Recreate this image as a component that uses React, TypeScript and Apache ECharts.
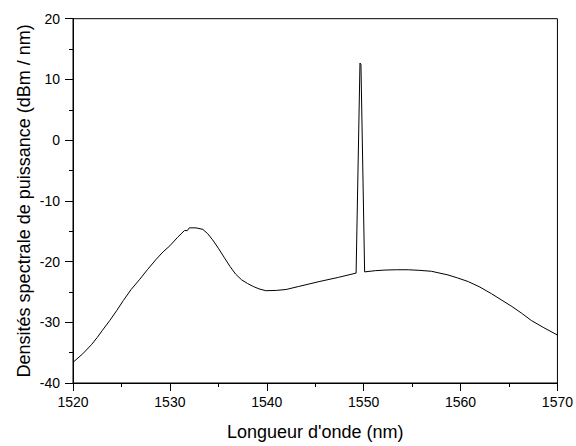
import React, { useEffect, useRef } from "react";
import * as echarts from "echarts";

const wavelengths = [
  1520, 1521, 1521.9, 1522.5, 1523, 1523.8, 1524.5, 1525.2, 1526, 1526.9,
  1527.7, 1528.6, 1529.3, 1530.0, 1530.8, 1531.5, 1531.8, 1532.0, 1532.7,
  1533.4, 1533.9, 1534.4, 1535.0, 1535.6, 1536.2, 1536.8, 1537.4, 1538.0,
  1538.6, 1539.2, 1539.9, 1541.0, 1542.0, 1543.3, 1545.4, 1547.4, 1549.22,
  1549.62, 1549.72, 1550.1, 1551.2, 1552.2, 1553.4, 1554.6, 1555.8, 1557.0,
  1558.7, 1559.7, 1560.8, 1562.0, 1563.2, 1564.2, 1565.3, 1566.3, 1567.3,
  1568.6, 1570,
];
const powers = [
  -36.6, -35.2, -33.7, -32.5, -31.4, -29.7, -28.1, -26.4, -24.6, -22.9,
  -21.3, -19.6, -18.4, -17.4, -16.0, -14.9, -14.9, -14.45, -14.45,
  -14.7, -15.4, -16.4, -17.8, -19.3, -20.8, -22.1, -23.0, -23.6,
  -24.1, -24.5, -24.8, -24.75, -24.6, -24.1, -23.3, -22.6, -21.9,
  12.7, 12.5, -21.7, -21.5, -21.4, -21.35, -21.35, -21.45, -21.6,
  -22.2, -22.7, -23.3, -24.2, -25.3, -26.3, -27.4, -28.5, -29.7,
  -30.9, -32.1,
];
const xTitle = "Longueur d'onde (nm)";
const yTitle = "Densités spectrale de puissance (dBm / nm)";

export default function App() {
  const ref = useRef<HTMLDivElement>(null);
  useEffect(() => {
    if (!ref.current) return;
    const chart = echarts.init(ref.current, null, { renderer: "svg" });
    const font = "'Liberation Sans', Arial, sans-serif";
    const axisCommon = {
      axisLine: { show: true, onZero: false, lineStyle: { color: "#000", width: 1 } },
      axisTick: { show: true, length: 8, lineStyle: { color: "#000", width: 1 } },
      minorTick: { show: true, splitNumber: 2, length: 4, lineStyle: { color: "#000", width: 1 } },
      splitLine: { show: false },
      minorSplitLine: { show: false },
      nameLocation: "middle" as const,
      nameMoveOverlap: false,
      nameTextStyle: { color: "#000", fontSize: 18, fontFamily: font },
    };
    const labelStyle = {
      color: "#000",
      fontSize: 14,
      fontFamily: font,
      formatter: (v: number) => String(v),
    };
    chart.setOption({
      animation: false,
      backgroundColor: "#fff",
      grid: {
        left: 73,
        right: 16,
        top: 18.7,
        bottom: 59.3,
        show: true,
        borderColor: "#000",
        borderWidth: 1,
      },
      xAxis: {
        type: "value",
        min: 1520,
        max: 1570,
        interval: 10,
        name: xTitle,
        nameGap: 40,
        ...axisCommon,
        axisLabel: { ...labelStyle, margin: 12 },
      },
      yAxis: {
        type: "value",
        min: -40,
        max: 20,
        interval: 10,
        name: yTitle,
        nameGap: 40,
        ...axisCommon,
        axisLabel: { ...labelStyle, margin: 13 },
      },
      series: [
        {
          type: "line",
          data: wavelengths.map((w, i) => [w, powers[i]]),
          showSymbol: false,
          lineStyle: { color: "#000", width: 1 },
          smooth: false,
        },
      ],
    });
    return () => chart.dispose();
  }, []);
  return (
    <div
      ref={ref}
      style={{ position: "fixed", left: 0, top: 0, width: 576, height: 446 }}
    />
  );
}
